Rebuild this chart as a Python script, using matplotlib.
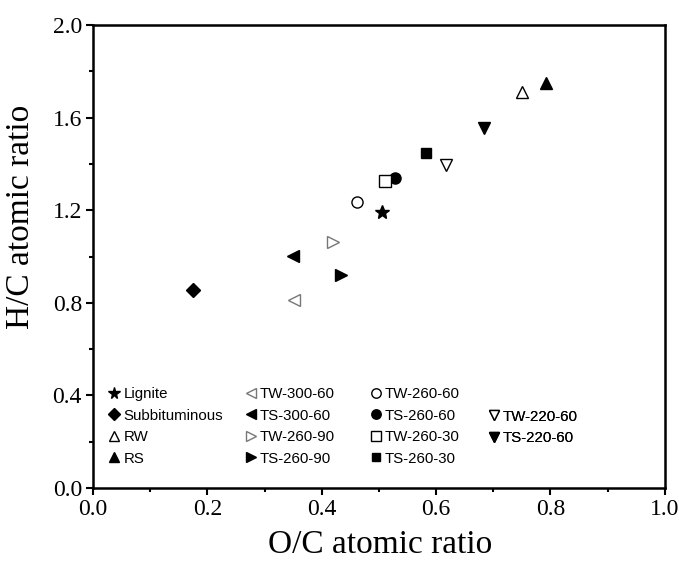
import matplotlib
matplotlib.use("Agg")
import matplotlib.pyplot as plt
from matplotlib.lines import Line2D
from matplotlib.ticker import MultipleLocator, FormatStrFormatter

# O/C and H/C atomic ratios
labels = ["Lignite", "Subbituminous", "RW", "RS",
          "TW-300-60", "TS-300-60", "TW-260-90", "TS-260-90",
          "TW-260-60", "TS-260-60", "TW-260-30", "TS-260-30",
          "TW-220-60", "TS-220-60"]
oc = [0.506, 0.174, 0.751, 0.792,
      0.352, 0.349, 0.419, 0.434,
      0.462, 0.528, 0.510, 0.583,
      0.618, 0.684]
hc = [1.192, 0.855, 1.712, 1.751,
      0.812, 1.004, 1.064, 0.920,
      1.237, 1.338, 1.327, 1.446,
      1.395, 1.554]

markers = ["*", "D", "^", "^", "<", "<", ">", ">", "o", "o", "s", "s", "v", "v"]
filled = [True, True, False, True, False, True, False, True,
          False, True, False, True, False, True]
edges = ["black", "black", "black", "black", "#777777", "black", "#777777", "black",
         "black", "black", "black", "black", "black", "black"]
sizes = [10, 7, 9, 9, 9, 9, 9, 9, 8, 8, 8, 7.5, 9, 9]

fig = plt.figure(figsize=(6.79, 5.69), dpi=100)
ax = fig.add_axes([0.137, 0.1424, 0.842, 0.8136])

handles = []
for i, lab in enumerate(labels):
    fc = "black" if filled[i] else "white"
    ax.plot(oc[i], hc[i], linestyle="none", marker=markers[i], ms=sizes[i],
            mfc=fc, mec=edges[i], mew=1.0)
    handles.append(Line2D([], [], linestyle="none", marker=markers[i],
                          ms=sizes[i] * 0.85, mfc=fc, mec=edges[i], mew=1.0, label=lab))

ax.set_xlim(0, 1.0)
ax.set_ylim(0, 2.0)
ax.xaxis.set_major_locator(MultipleLocator(0.2))
ax.xaxis.set_minor_locator(MultipleLocator(0.1))
ax.yaxis.set_major_locator(MultipleLocator(0.4))
ax.yaxis.set_minor_locator(MultipleLocator(0.2))
ax.xaxis.set_major_formatter(FormatStrFormatter("%.1f"))
ax.yaxis.set_major_formatter(FormatStrFormatter("%.1f"))
ax.tick_params(which="major", direction="out", length=5, width=1.5, pad=3,
               labelsize=17, labelfontfamily="Liberation Serif")
ax.tick_params(which="minor", direction="out", length=3, width=1.5)
for s in ax.spines.values():
    s.set_linewidth(1.8)

ax.set_xlabel("O/C atomic ratio", fontsize=24, family="Liberation Serif")
ax.set_ylabel("H/C atomic ratio", fontsize=24, family="Liberation Serif")
ax.xaxis.set_label_coords(0.502, -0.09)
ax.yaxis.set_label_coords(-0.1, 0.585)

legend_font = {"family": "Liberation Sans", "size": 10.8}
common = dict(frameon=False, prop=legend_font, handlelength=0.8, handletextpad=0.2,
              labelspacing=0.5, borderpad=0, borderaxespad=0, loc="upper left")
cols = [(handles[0:4], 0.027, 0.218), (handles[4:8], 0.266, 0.218),
        (handles[8:12], 0.484, 0.218), (handles[12:14], 0.69, 0.169)]
for hs, x0, y0 in cols:
    leg = ax.legend(handles=hs, bbox_to_anchor=(x0, y0), **common)
    ax.add_artist(leg)

fig.savefig("out.png", dpi=100)
